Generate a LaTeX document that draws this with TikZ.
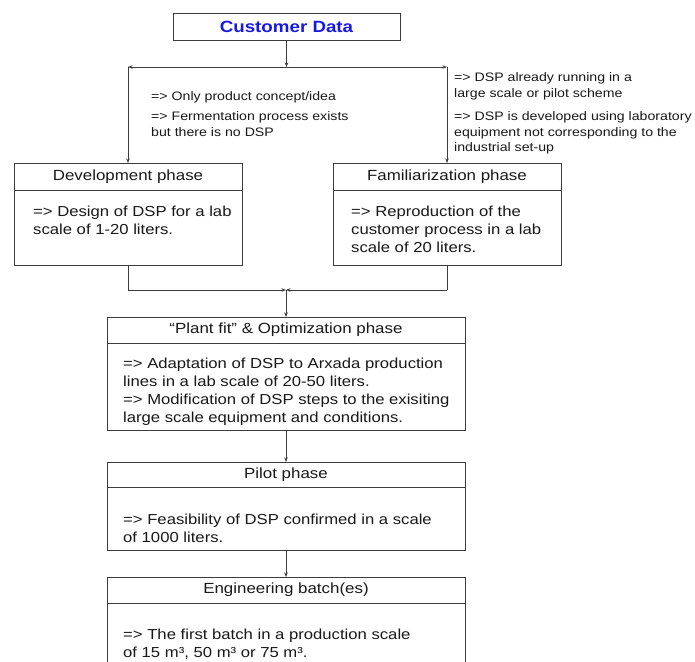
\documentclass[tikz,border=0pt]{standalone}
\usepackage{fontspec}
\setmainfont[FakeStretch=1.15]{Liberation Sans}
\usetikzlibrary{arrows.meta}
\definecolor{cblue}{RGB}{24,24,230}
\definecolor{ink}{RGB}{25,25,25}
\definecolor{edge}{RGB}{60,60,60}
\begin{document}
\begin{tikzpicture}[x=1pt,y=-1pt,
  frame/.style={draw=edge, line width=0.8pt, inner sep=0pt, outer sep=0pt},
  hdr/.style={frame, font=\fontsize{14.7}{18}\selectfont, text=ink},
  bodytxt/.style={anchor=north west, inner sep=0pt, align=left, font=\fontsize{14.5}{18}\selectfont, text=ink},
  note/.style={anchor=north west, inner sep=0pt, align=left, font=\fontsize{12.3}{15.5}\selectfont, text=ink},
  arr/.style={draw=edge, line width=0.7pt, -{Stealth[length=4.5pt,width=3.5pt]}},
  ln/.style={draw=edge, line width=0.7pt}]
\useasboundingbox (0,0) rectangle (695,661);
\clip (0,0) rectangle (695,661);
\fill[white] (0,0) rectangle (695,661);

% top
\node[frame, minimum width=227pt, minimum height=27pt, text=cblue,
      font=\fontsize{16.3}{20}\selectfont\bfseries] (cust) at (286.5,26.5) {Customer Data};
\coordinate (split) at (286.5,67);
\coordinate (sl) at (128,67);
\coordinate (sr) at (447,67);

% notes
\node[note] (nl) at (151,91.5) {=> Only product concept/idea\\[4.5pt]=> Fermentation process exists\\but there is no DSP};
\node[note] (nr) at (454,72.5) {=> DSP already running in a\\large scale or pilot scheme\\[8pt]=> DSP is developed using laboratory\\equipment not corresponding to the\\industrial set-up};

% development
\node[hdr, minimum width=228pt, minimum height=27pt] (devh) at (128,176.5) {Development phase};
\node[frame, minimum width=228pt, minimum height=75pt, anchor=north] (devb) at (devh.south) {};
\node[bodytxt] (devt) at (33,205.6) {=> Design of DSP for a lab\\scale of 1-20 liters.};

% familiarization
\node[hdr, minimum width=228pt, minimum height=27pt] (famh) at (447,176.5) {Familiarization phase};
\node[frame, minimum width=228pt, minimum height=75pt, anchor=north] (famb) at (famh.south) {};
\node[bodytxt] (famt) at (351,205.6) {=> Reproduction of the\\customer process in a lab\\scale of 20 liters.};

% plant fit
\node[hdr, minimum width=358pt, minimum height=26pt] (plh) at (286,330) {“Plant fit” \& Optimization phase};
\node[frame, minimum width=358pt, minimum height=87pt, anchor=north] (plb) at (plh.south) {};
\node[bodytxt] (plt) at (123,357.6) {=> Adaptation of DSP to Arxada production\\lines in a lab scale of 20-50 liters.\\=> Modification of DSP steps to the exisiting\\large scale equipment and conditions.};

% pilot
\node[hdr, minimum width=358pt, minimum height=25pt] (pih) at (286,474.5) {Pilot phase};
\node[frame, minimum width=358pt, minimum height=63pt, anchor=north] (pib) at (pih.south) {};
\node[bodytxt] (pit) at (123,513.6) {=> Feasibility of DSP confirmed in a scale\\of 1000 liters.};

% engineering
\node[hdr, minimum width=358pt, minimum height=26pt] (enh) at (286,590) {Engineering batch(es)};
\node[frame, minimum width=358pt, minimum height=100pt, anchor=north] (enb) at (enh.south) {};
\node[bodytxt] (ent) at (123,628.6) {=> The first batch in a production scale\\of 15 m³, 50 m³ or 75 m³.};

% connectors
\draw[arr] (cust.south) -- (split);
\draw[arr] (split) -- (sl);
\draw[arr] (split) -- (sr);
\draw[arr] (sl) -- (devh.north);
\draw[arr] (sr) -- (famh.north);

\coordinate (ml) at (128,290);
\coordinate (mr) at (447,290);
\coordinate (mid) at (286,290);
\draw[ln] (devb.south) -- (ml);
\draw[arr] (ml) -- (mid);
\draw[ln] (famb.south) -- (mr);
\draw[arr] (mr) -- (mid);
\draw[arr] (mid) -- (plh.north);
\draw[arr] (plb.south) -- (pih.north);
\draw[arr] (pib.south) -- (enh.north);
\end{tikzpicture}
\end{document}
